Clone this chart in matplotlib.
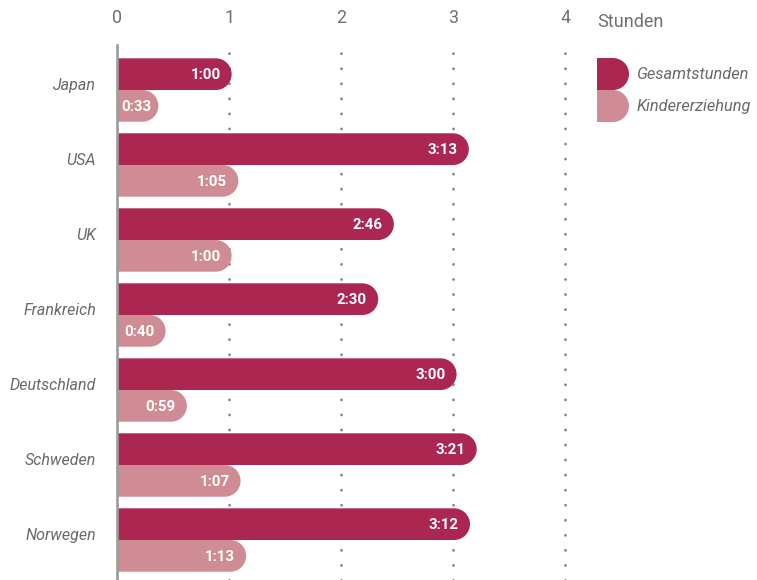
import matplotlib
matplotlib.use("Agg")
import matplotlib.pyplot as plt
from matplotlib.path import Path
from matplotlib.patches import PathPatch, Patch
from matplotlib.legend_handler import HandlerBase

countries = ["Japan", "USA", "UK", "Frankreich", "Deutschland", "Schweden", "Norwegen"]
# bar tips as drawn in the picture (hours on the axis)
total_len = [1.02, 3.14, 2.47, 2.33, 3.03, 3.21, 3.15]
child_len = [0.365, 1.08, 1.02, 0.43, 0.62, 1.10, 1.15]
total_lbl = ["1:00", "3:13", "2:46", "2:30", "3:00", "3:21", "3:12"]
child_lbl = ["0:33", "1:05", "1:00", "0:40", "0:59", "1:07", "1:13"]
series = ["Gesamtstunden", "Kindererziehung"]
xticks = [0, 1, 2, 3, 4]

DARK = "#ab2651"
LIGHT = "#d08c94"
GREY = "#6a6a6a"
plt.rcParams["font.family"] = ["Roboto", "DejaVu Sans"]


def pill(x0, yc, length, h, rx):
    # bar with a square left end and a round right end
    arc = Path.arc(-90, 90)
    xe = x0 + length - rx
    verts = [(x0, yc - h / 2), (xe, yc - h / 2)]
    codes = [Path.MOVETO, Path.LINETO]
    for (ax_, ay_), c in zip(arc.vertices[1:], arc.codes[1:]):
        verts.append((xe + ax_ * rx, yc + ay_ * h / 2))
        codes.append(c)
    verts += [(x0, yc + h / 2), (x0, yc - h / 2)]
    codes += [Path.LINETO, Path.CLOSEPOLY]
    return Path(verts, codes)


class PillHandler(HandlerBase):
    def create_artists(self, legend, orig_handle, xdescent, ydescent,
                       width, height, fontsize, trans):
        p = pill(-xdescent, -ydescent + height / 2, width, height, height / 2)
        patch = PathPatch(p, facecolor=orig_handle.get_facecolor(),
                          edgecolor="none", transform=trans)
        return [patch]


W, H = 757, 580
fig = plt.figure(figsize=(W / 100, H / 100), dpi=100)
left_px, top_px, unit_px = 117.5, 45, 111.9
ax = fig.add_axes([left_px / W, 0, (W - left_px) / W, (H - top_px) / H])
ax.set_xlim(0, (W - left_px) / unit_px)
ax.set_ylim(6.533, -0.6)

# pixel scale, so the round ends come out as true half circles
p0 = ax.transData.transform((0, 0))
p1 = ax.transData.transform((1, 1))
sx, sy = abs(p1[0] - p0[0]), abs(p1[1] - p0[1])
bh = 31.7 / sy
rx = (bh * sy / 2) / sx

for i in range(len(countries)):
    for off, ln, lbl, col in [(-bh / 2, total_len[i], total_lbl[i], DARK),
                              (bh / 2, child_len[i], child_lbl[i], LIGHT)]:
        y = i + off
        ax.add_patch(PathPatch(pill(0, y, ln, bh, rx), facecolor=col,
                               edgecolor="none", zorder=3))
        if ln < 0.4:
            ax.annotate(lbl, xy=(0, y), xytext=(3, -0.5), textcoords="offset points",
                        ha="left", va="center", color="white",
                        fontweight="bold", fontsize=10.8, zorder=4)
        else:
            ax.annotate(lbl, xy=(ln, y), xytext=(-8, -0.5), textcoords="offset points",
                        ha="right", va="center", color="white",
                        fontweight="bold", fontsize=10.8, zorder=4)

ax.set_yticks(range(len(countries)))
ax.set_yticklabels(countries, fontsize=11.5, style="italic", color=GREY)
for t in ax.get_yticklabels():
    t.set_verticalalignment("baseline")
ax.tick_params(axis="y", length=0, pad=15.5)

ax.xaxis.tick_top()
ax.set_xticks(xticks)
ax.set_xticklabels([str(v) for v in xticks])
ax.tick_params(axis="x", length=0, pad=13, labelsize=12.8, labelcolor="#707070")
ax.annotate("Stunden", xy=(4, 1), xycoords=ax.get_xaxis_transform(),
            xytext=(23, 13), textcoords="offset points", ha="left",
            va="baseline", fontsize=13, color="#707070")

ax.grid(axis="x", color="#8a8a8a", lw=2.1, ls=(0, (0.01, 5.15)),
        dash_capstyle="round")
ax.grid(axis="y", visible=False)
ax.set_axisbelow(True)

for s in ["top", "right", "bottom"]:
    ax.spines[s].set_visible(False)
ax.spines["left"].set_color("#9c9c9c")
ax.spines["left"].set_linewidth(1.9)
ax.spines["left"].set_zorder(5)

handles = [Patch(facecolor=DARK), Patch(facecolor=LIGHT)]
fs = 11.8
box_pt = 32 * 72 / 100
hh = (box_pt - 0.245 * fs) / (0.65 * fs)   # legend row height becomes 32 px
leg = ax.legend(handles, series, handler_map={Patch: PillHandler()},
                loc="upper left", bbox_to_anchor=((597 - left_px) / (W - left_px), 1 - 13 / (H - top_px)),
                frameon=False, borderpad=0, borderaxespad=0, labelspacing=0,
                handlelength=box_pt / fs, handleheight=hh,
                handletextpad=0.45, prop={"size": fs, "style": "italic"})
for t in leg.get_texts():
    t.set_color(GREY)

fig.savefig("out.png", dpi=100)
